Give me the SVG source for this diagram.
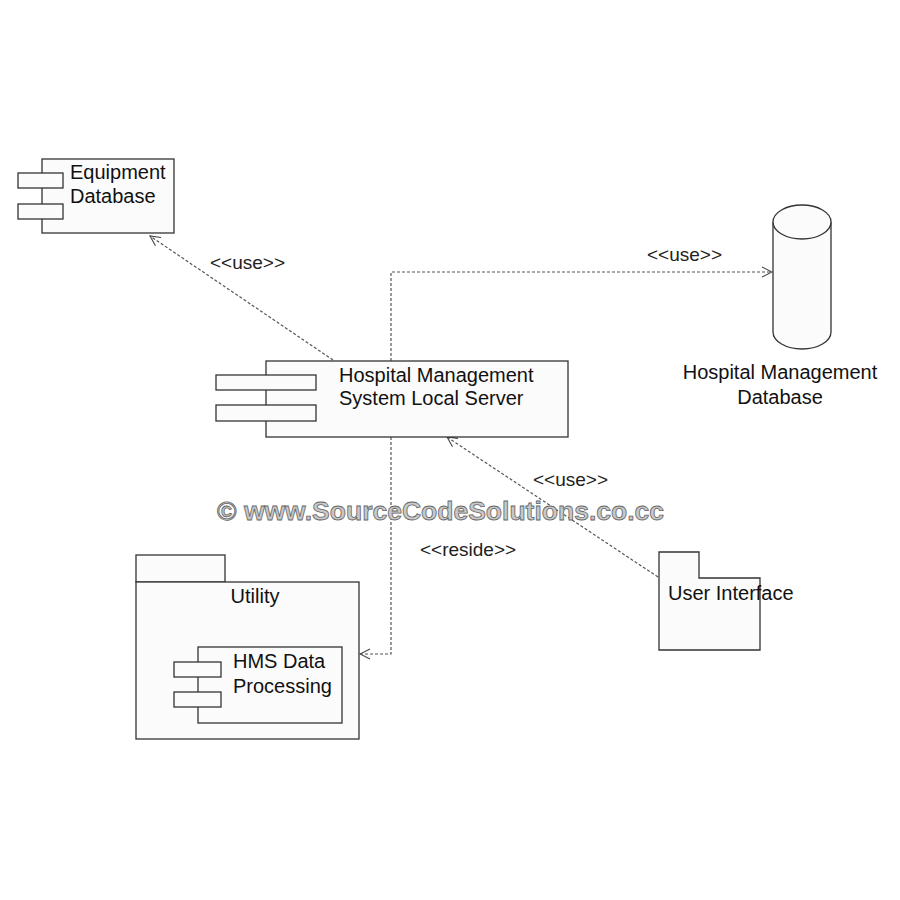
<svg xmlns="http://www.w3.org/2000/svg" width="900" height="900" viewBox="0 0 900 900">
<defs>
<marker id="open" viewBox="0 0 12 12" refX="11" refY="6" markerWidth="12" markerHeight="12" markerUnits="userSpaceOnUse" orient="auto">
<path d="M1,1 L11,6 L1,11" fill="none" stroke="#444" stroke-width="1.1"/>
</marker>
</defs>
<style>
.box{fill:#fbfbfb;stroke:#333;stroke-width:1.3}
.t{font-family:"Liberation Sans",Arial,sans-serif;font-size:20px;fill:#111}
.lbl{font-family:"Liberation Sans",Arial,sans-serif;font-size:19px;fill:#222}
.dep{fill:none;stroke:#555;stroke-width:1.2;stroke-dasharray:3 2;marker-end:url(#open)}
.wm{font-family:"Liberation Sans",Arial,sans-serif;font-size:26.5px;font-weight:bold;fill:#c8c8c8;stroke:#666;stroke-width:0.8}
</style>
<rect width="900" height="900" fill="#ffffff"/>
<g id="connectors">
<path class="dep" d="M333,360 L150,236"/>
<path d="M391,361 L391,272 L772,272" class="dep"/>
<path d="M391,437 L391,654 L360,654" class="dep"/>
<path class="dep" d="M658,577 L447,437"/>
<text class="lbl" x="210" y="269">&lt;&lt;use&gt;&gt;</text>
<text class="lbl" x="647" y="261">&lt;&lt;use&gt;&gt;</text>
<text class="lbl" x="533" y="486">&lt;&lt;use&gt;&gt;</text>
<text class="lbl" x="420" y="556">&lt;&lt;reside&gt;&gt;</text>
</g>
<g id="equipment-db">
<rect class="box" x="42" y="159" width="132" height="74"/>
<rect class="box" x="18" y="173" width="45" height="15"/>
<rect class="box" x="18" y="204" width="45" height="15"/>
<text class="t" x="70" y="179">Equipment</text>
<text class="t" x="70" y="203">Database</text>
</g>
<g id="hms-server">
<rect class="box" x="266" y="361" width="302" height="76"/>
<rect class="box" x="216" y="375" width="100" height="15"/>
<rect class="box" x="216" y="405" width="100" height="16"/>
<text class="t" x="339" y="382">Hospital Management</text>
<text class="t" x="339" y="405">System Local Server</text>
</g>
<g id="hms-db">
<path class="box" d="M773,222 L773,332 A29,17 0 0 0 831,332 L831,222"/>
<ellipse class="box" cx="802" cy="222" rx="29" ry="17"/>
<text class="t" x="780" y="379" text-anchor="middle">Hospital Management</text>
<text class="t" x="780" y="404" text-anchor="middle">Database</text>
</g>
<g id="utility">
<rect class="box" x="136" y="555" width="89" height="27"/>
<rect class="box" x="136" y="582" width="223" height="157"/>
<text class="t" x="255" y="603" text-anchor="middle">Utility</text>
<g id="hms-data-processing">
<rect class="box" x="198" y="647" width="144" height="76"/>
<rect class="box" x="174" y="662" width="47" height="15"/>
<rect class="box" x="174" y="692" width="47" height="15"/>
<text class="t" x="233" y="668">HMS Data</text>
<text class="t" x="233" y="693">Processing</text>
</g>
</g>
<g id="user-interface">
<path class="box" d="M659,552 L699,552 L699,578 L760,578 L760,650 L659,650 Z"/>
<text class="t" x="668" y="600">User Interface</text>
</g>
<text class="wm" x="217" y="520">© www.SourceCodeSolutions.co.cc</text>
</svg>
